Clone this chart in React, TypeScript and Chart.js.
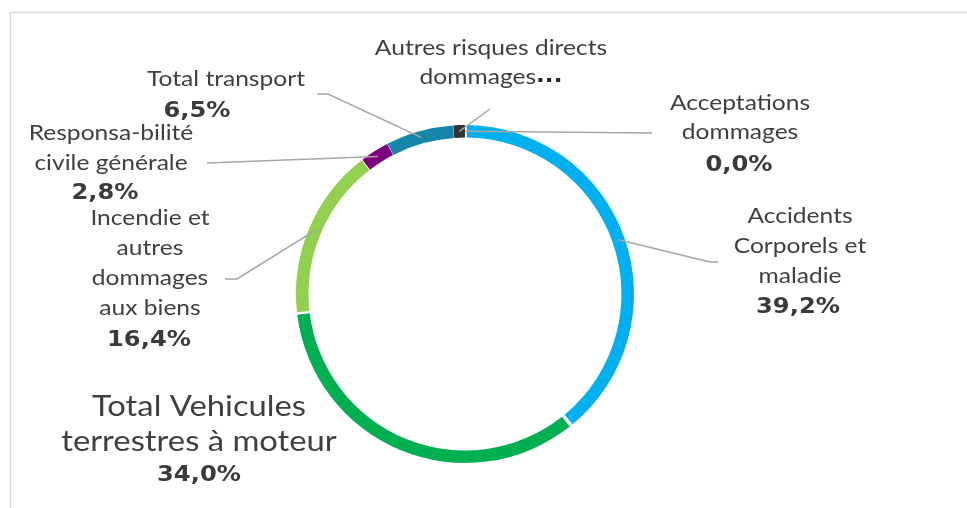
import React, { useEffect, useRef } from "react";
import { Chart, registerables } from "chart.js";

Chart.register(...registerables);

// ---- data ----
const categories = [
  "Acceptations dommages",
  "Accidents Corporels et maladie",
  "Total Vehicules terrestres à moteur",
  "Incendie et autres dommages aux biens",
  "Responsa-bilité civile générale",
  "Total transport",
  "Autres risques directs dommages",
];
const shares = [0.0, 39.2, 34.0, 16.4, 2.8, 6.5, 1.1];
const valueLabels = ["0,0%", "39,2%", "34,0%", "16,4%", "2,8%", "6,5%", ""];
const labelLines = [
  ["Acceptations", "dommages"],
  ["Accidents", "Corporels et", "maladie"],
  ["Total Vehicules", "terrestres à moteur"],
  ["Incendie et", "autres", "dommages", "aux biens"],
  ["Responsa-bilité", "civile générale"],
  ["Total transport"],
  ["Autres risques directs", "dommages"],
];
const colors = ["#7F7F7F", "#00B0F0", "#00B050", "#92D050", "#7F007F", "#1585AA", "#333333"];

// ---- label layout (positions / styles) ----
type LabelLayout = {
  cx: number;
  y0: number;
  lh: number;
  fs: number;
  vx: number;
  vy: number;
  leader: [number, number][];
  ellipsis?: boolean;
};
const layouts: LabelLayout[] = [
  { cx: 740, y0: 103, lh: 29, fs: 21, vx: 739, vy: 165, leader: [[652, 133]] },
  { cx: 800, y0: 216, lh: 30, fs: 21, vx: 798, vy: 307, leader: [[718, 262], [710, 262]] },
  { cx: 199, y0: 407, lh: 35, fs: 28, vx: 199, vy: 475, leader: [] },
  { cx: 150, y0: 218, lh: 30, fs: 21, vx: 149, vy: 340, leader: [[225, 279], [237, 279]] },
  { cx: 111, y0: 133, lh: 30, fs: 21, vx: 105, vy: 193, leader: [[207, 163]] },
  { cx: 226, y0: 79, lh: 30, fs: 21, vx: 197, vy: 111, leader: [[317, 94], [328, 94]] },
  { cx: 491, y0: 48, lh: 29, fs: 21, vx: 491, vy: 0, leader: [[490, 109]], ellipsis: true },
];

const TEXT_FONT = "Lato, 'Open Sans', sans-serif";
const BOLD_FONT = "'DejaVu Sans', sans-serif";
const TEXT_COLOR = "#404040";
const VALUE_COLOR = "#3A3A3A";
const LEADER_COLOR = "#A6A6A6";
const TEXT_SX = 1.17;
const VALUE_SX = 1.1;
const VALUE_FS = 22;

function drawScaled(ctx: CanvasRenderingContext2D, text: string, x: number, y: number, sx: number, align: CanvasTextAlign) {
  ctx.save();
  ctx.translate(x, y);
  ctx.scale(sx, 1);
  ctx.textAlign = align;
  ctx.textBaseline = "middle";
  ctx.fillText(text, 0, 0);
  ctx.restore();
}

const framePlugin = {
  id: "frame",
  beforeDraw(chart: any) {
    const ctx = chart.ctx;
    ctx.save();
    ctx.strokeStyle = "#D9D9D9";
    ctx.lineWidth = 1.5;
    ctx.beginPath();
    ctx.moveTo(10.5, 508);
    ctx.lineTo(10.5, 12.5);
    ctx.lineTo(967, 12.5);
    ctx.stroke();
    ctx.restore();
  },
};

const labelPlugin = {
  id: "calloutLabels",
  afterDatasetsDraw(chart: any) {
    const ctx: CanvasRenderingContext2D = chart.ctx;
    const meta = chart.getDatasetMeta(0);
    ctx.save();
    meta.data.forEach((arc: any, i: number) => {
      const L = layouts[i];
      if (!L) return;
      if (L.leader.length) {
        const p = arc.getCenterPoint();
        ctx.strokeStyle = LEADER_COLOR;
        ctx.lineWidth = 1.5;
        ctx.beginPath();
        ctx.moveTo(L.leader[0][0], L.leader[0][1]);
        for (let k = 1; k < L.leader.length; k++) ctx.lineTo(L.leader[k][0], L.leader[k][1]);
        ctx.lineTo(p.x, p.y);
        ctx.stroke();
      }
      const lines = labelLines[i];
      lines.forEach((t, k) => {
        const y = L.y0 + k * L.lh;
        ctx.fillStyle = TEXT_COLOR;
        ctx.font = `400 ${L.fs}px ${TEXT_FONT}`;
        if (L.ellipsis && k === lines.length - 1) {
          const w1 = ctx.measureText(t).width * TEXT_SX;
          ctx.font = `bold ${L.fs}px ${BOLD_FONT}`;
          const w2 = ctx.measureText("...").width * VALUE_SX;
          const x0 = L.cx - (w1 + w2) / 2;
          ctx.font = `400 ${L.fs}px ${TEXT_FONT}`;
          drawScaled(ctx, t, x0, y, TEXT_SX, "left");
          ctx.font = `bold ${L.fs}px ${BOLD_FONT}`;
          ctx.fillStyle = "#262626";
          drawScaled(ctx, "...", x0 + w1, y, VALUE_SX, "left");
        } else {
          drawScaled(ctx, t, L.cx, y, TEXT_SX, "center");
        }
      });
      if (valueLabels[i]) {
        ctx.font = `bold ${VALUE_FS}px ${BOLD_FONT}`;
        ctx.fillStyle = VALUE_COLOR;
        drawScaled(ctx, valueLabels[i], L.vx, L.vy, VALUE_SX, "center");
      }
    });
    ctx.restore();
  },
};

export default function App() {
  const ref = useRef<HTMLCanvasElement | null>(null);
  useEffect(() => {
    document.body.style.margin = "0";
    if (!ref.current) return;
    const chart = new Chart(ref.current, {
      type: "doughnut",
      data: {
        labels: categories,
        datasets: [
          {
            data: shares,
            backgroundColor: colors,
            borderWidth: 0,
            spacing: 3,
          },
        ],
      },
      options: {
        animation: false,
        responsive: false,
        maintainAspectRatio: false,
        cutout: "92.5%",
        layout: { padding: { left: 296, right: 333, top: 125, bottom: 45 } },
        plugins: {
          legend: { display: false },
          tooltip: { enabled: false },
        },
      },
      plugins: [framePlugin, labelPlugin],
    } as any);
    return () => chart.destroy();
  }, []);
  return (
    <div style={{ width: 967, height: 508, background: "#fff" }}>
      <canvas ref={ref} width={967} height={508} style={{ display: "block" }} />
    </div>
  );
}
